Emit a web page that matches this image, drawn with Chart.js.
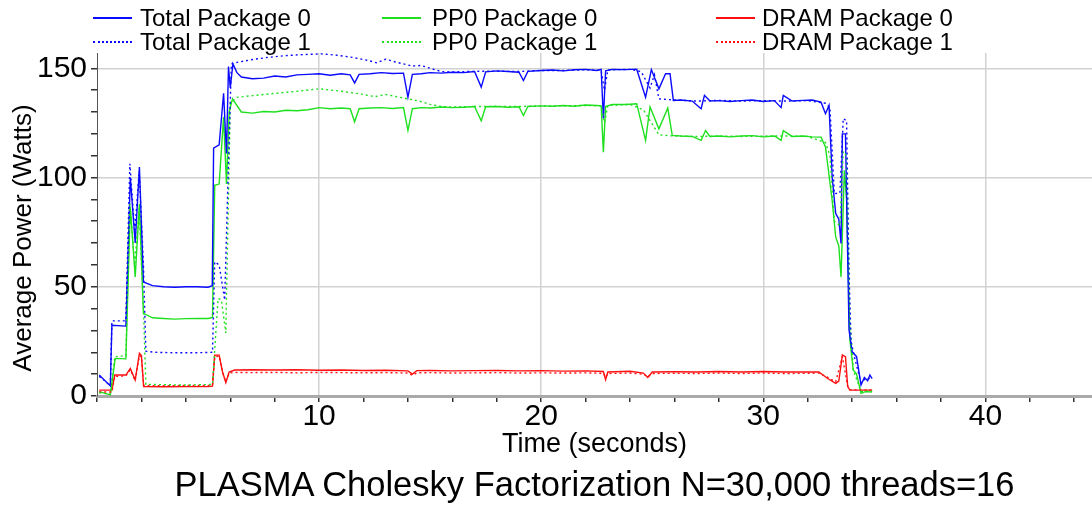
<!DOCTYPE html>
<html>
<head>
<meta charset="utf-8">
<script src="https://cdn.jsdelivr.net/npm/chart.js@4"></script>
<style>
  html, body { margin: 0; padding: 0; background: #fff; overflow: hidden; }
  #wrap { position: relative; width: 1092px; height: 506px; font-family: 'Liberation Sans', Arial, sans-serif; color: #000; }
  #c { position: absolute; left: 0; top: 0; }
  .leg { position: absolute; font-size: 24px; line-height: 24px; white-space: nowrap; }
  .sw { position: absolute; height: 0; }
  #ytitle { position: absolute; width: 320px; height: 30px; line-height: 30px; font-size: 26px; text-align: center; transform: rotate(-90deg); white-space: nowrap; }
  #mtitle { position: absolute; left: 97px; width: 995px; top: 464px; height: 40px; line-height: 40px; font-size: 34.5px; text-align: center; white-space: nowrap; }
</style>
</head>
<body>
<div id="wrap">
  <canvas id="c" width="1092" height="506"></canvas>
  <div id="legend"></div>
  <div id="ytitle" style="left:-138px; top:223px;">Average Power (Watts)</div>
  <div id="mtitle">PLASMA Cholesky Factorization N=30,000 threads=16</div>
</div>
<script>
// ---- data: [time (s), power (W)] ----
const totalPkg0 = [[0.1,9.6],[0.6,4.6],[0.67,32.4],[1.3,32],[1.5,100],[1.72,70],[1.91,104.8],[2.09,52.2],[2.5,50.5],[3.0,50],[3.5,49.8],[4.0,50],[4.5,50],[5.0,49.8],[5.19,50.5],[5.25,113.5],[5.5,115],[5.7,138.6],[5.83,111],[5.92,150.8],[6.0,141],[6.12,152],[6.3,148],[6.5,146],[7.0,145.2],[7.5,145.5],[8.0,146.5],[8.5,146],[9.0,147],[9.5,147.2],[10.0,147.5],[10.5,146.8],[11.0,147.5],[11.4,147],[11.6,143.3],[11.8,147.2],[12.3,147.5],[12.8,148],[13.3,147.6],[13.8,147.8],[14.0,136.8],[14.2,147.2],[14.6,147.5],[15.0,148],[15.5,147.8],[16.0,148.2],[16.5,148],[17.0,148.5],[17.3,141.4],[17.5,148.4],[18.0,148.8],[18.5,148.5],[19.0,148.2],[19.2,144.4],[19.4,148.6],[20.0,149],[20.5,149.2],[21.0,148.8],[21.5,149.3],[22.0,149.5],[22.5,149],[22.7,149.5],[22.8,127],[22.9,148.8],[23.2,149.5],[23.8,149.4],[24.3,149.6],[24.7,136.8],[24.96,149.4],[25.3,140.6],[25.6,147.5],[25.8,147.5],[25.95,135.3],[26.3,135.5],[26.8,135],[27.2,131.5],[27.35,137.6],[27.6,135],[28.0,135.2],[28.5,134.8],[29.0,135.2],[29.5,135.5],[30.0,134.8],[30.5,135.2],[30.8,132],[30.9,137.6],[31.3,135],[31.8,135.3],[32.2,135.5],[32.6,134.5],[32.8,129.2],[32.96,133],[33.1,100.2],[33.26,83.5],[33.4,81],[33.5,69.8],[33.56,120],[33.7,120],[33.86,30.2],[34.0,20.3],[34.2,18],[34.4,5],[34.55,8.5],[34.7,7],[34.8,9.6],[34.9,8]];
const totalPkg1 = [[0.1,9.0],[0.6,4.8],[0.67,34.4],[1.3,34.4],[1.48,106.3],[1.7,75],[1.9,103],[2.09,60],[2.2,20.5],[2.6,20],[3.5,19.8],[4.5,19.8],[5.2,20],[5.3,61.4],[5.5,60],[5.75,43.9],[5.9,100],[6.05,152],[6.35,152.8],[7.0,154],[7.7,155],[8.5,155.8],[9.3,156.3],[10.1,156.6],[10.8,156],[11.5,155],[12.2,153.6],[12.6,152.5],[13.0,154.2],[13.4,153],[13.8,152],[14.2,151],[14.6,151.3],[15.0,150],[15.5,148.5],[16.0,148.3],[17.0,148.6],[18.0,148.7],[19.0,148.5],[20.0,149],[21.0,149],[22.0,149.3],[22.7,149],[22.85,140],[23.0,149.3],[24.0,149.5],[24.5,148.5],[24.9,141],[25.1,147],[25.3,136],[26.0,135.5],[27.0,135],[28.0,135.3],[29.0,135],[30.0,135.2],[31.0,135],[32.0,135.2],[32.8,134],[33.0,132],[33.2,92.6],[33.45,93],[33.6,127],[33.75,126],[33.85,60],[33.95,25],[34.1,18],[34.4,6],[34.6,8],[34.9,8]];
const pp0Pkg0 = [[0.1,2],[0.6,0.5],[0.82,17.2],[1.3,17],[1.5,86.5],[1.72,54.5],[1.91,88],[2.09,37.8],[2.5,35.8],[3.0,35.5],[3.5,35.2],[4.0,35.4],[4.5,35.5],[5.0,35.5],[5.2,36],[5.3,96.4],[5.5,97],[5.7,127.7],[5.83,97],[5.95,130],[6.1,136],[6.5,130],[7.0,129.5],[7.5,130.2],[8.0,130],[8.5,130.8],[9.0,130.6],[9.5,131],[10.0,132],[10.5,131.5],[11.0,131.8],[11.4,131.5],[11.6,125.5],[11.8,131.5],[12.3,131.8],[12.8,132],[13.3,131.6],[13.8,132],[14.0,121.6],[14.2,131.5],[14.6,132],[15.0,131.8],[15.5,132.3],[16.0,132],[16.5,132.2],[17.0,132.5],[17.3,126],[17.5,132.4],[18.0,132.5],[18.5,132.2],[19.0,132.4],[19.2,128.4],[19.4,132.5],[20.0,132.8],[20.5,132.6],[21.0,133],[21.5,132.6],[22.0,133.2],[22.5,133],[22.7,132.8],[22.8,111.6],[22.9,132.5],[23.2,133.5],[23.8,133.4],[24.3,133.8],[24.7,117],[24.9,132.3],[25.3,122.3],[25.7,131.8],[25.9,119.3],[26.3,119],[26.8,118.8],[27.2,117],[27.4,121.5],[27.6,118.8],[28.0,119],[28.5,118.6],[29.0,119],[29.5,119.2],[30.0,118.6],[30.5,119],[30.8,117],[30.9,121.5],[31.3,118.8],[31.8,119],[32.2,118.6],[32.6,118.5],[32.8,114],[33.1,89.6],[33.26,72.8],[33.4,68.7],[33.5,54.5],[33.65,103.3],[33.75,90],[33.9,25.6],[34.05,11.9],[34.2,10],[34.4,1.2],[34.6,2],[34.9,1.8]];
const pp0Pkg1 = [[0.1,1.5],[0.6,0.8],[0.8,18],[1.3,18.5],[1.48,88],[1.7,60],[1.9,86],[2.09,40],[2.2,5.3],[3.0,5.2],[4.0,5],[5.2,5.3],[5.45,44.6],[5.6,44],[5.8,28.8],[6.0,133.8],[6.3,136.7],[7.0,137.5],[8.0,138.5],[9.0,139.5],[10.0,140.6],[11.0,139.5],[12.0,138],[12.5,137],[13.0,138],[13.5,137],[14.0,136],[14.5,135],[15.0,133.5],[15.5,132.5],[16.0,132.3],[17.0,132.5],[18.0,132.6],[19.0,132.5],[20.0,132.8],[21.0,132.8],[22.0,133],[22.7,132.8],[22.85,125],[23.0,133],[24.0,133.5],[24.6,131],[25.3,119.5],[26.0,119],[27.0,118.8],[28.0,119],[29.0,118.8],[30.0,119],[31.0,119],[32.0,118.8],[32.8,116],[33.0,110],[33.2,80],[33.45,78],[33.6,112],[33.75,110],[33.9,35],[34.05,12],[34.4,2],[34.9,2.2]];
const dramPkg0 = [[0.1,2.7],[0.67,2.7],[0.8,9.6],[1.3,9.6],[1.5,12.6],[1.72,7.3],[1.91,19.5],[2.0,18.5],[2.1,4.3],[3.0,4.2],[4.0,4.3],[5.0,4.3],[5.2,4.5],[5.3,18.7],[5.5,18.7],[5.65,11.1],[5.8,6.1],[5.95,11],[6.2,11.9],[7.0,12],[8.0,11.9],[9.0,12],[10.0,11.8],[11.0,11.9],[12.0,11.7],[13.0,11.8],[14.0,11.5],[14.2,10],[14.4,11.6],[15.0,11.7],[16.0,11.5],[17.0,11.6],[18.0,11.7],[19.0,11.5],[20.0,11.6],[21.0,11.4],[22.0,11.5],[22.8,11.2],[22.9,7.5],[23.0,11],[24.0,11.3],[24.6,10.5],[24.8,8.5],[25.0,11],[26.0,11.1],[27.0,11],[28.0,11.2],[29.0,11],[30.0,11.2],[31.0,11],[32.0,11],[32.5,11],[32.9,8],[33.26,5.8],[33.4,6.8],[33.56,18.7],[33.7,18],[33.8,4.3],[33.9,2.7],[34.9,2.7]];
const dramPkg1 = [[0.1,1.8],[0.67,1.8],[0.8,9],[1.3,9.2],[1.5,12],[1.72,7],[1.91,18.5],[2.0,18],[2.1,4.8],[3.0,4.7],[4.0,4.8],[5.0,4.8],[5.2,5],[5.3,18],[5.5,18.2],[5.65,11],[5.8,6.5],[5.95,10.5],[6.2,10.8],[7.0,10.7],[8.0,10.8],[9.0,10.6],[10.0,10.8],[11.0,10.7],[12.0,10.6],[13.0,10.7],[14.0,10.5],[14.2,9.5],[14.4,10.6],[15.0,10.7],[16.0,10.5],[17.0,10.6],[18.0,10.7],[19.0,10.5],[20.0,10.6],[21.0,10.5],[22.0,10.6],[22.8,10.4],[22.9,8.5],[23.0,10.3],[24.0,10.5],[24.6,10],[24.8,8.8],[25.0,10.3],[26.0,10.4],[27.0,10.3],[28.0,10.5],[29.0,10.3],[30.0,10.5],[31.0,10.3],[32.0,10.4],[32.5,10.5],[32.9,8.5],[33.26,6.5],[33.56,18],[33.8,4.5],[33.9,2.8],[34.9,2.8]];

const seriesNames = ['Total Package 0','Total Package 1','PP0 Package 0','PP0 Package 1','DRAM Package 0','DRAM Package 1'];
const xTickLabels = [10, 20, 30, 40];
const yTickLabels = [0, 50, 100, 150];

const BLUE = '#0a0aff', GREEN = '#1ee01e', RED = '#ff1010';
const DOT = [2, 3];

const toPts = arr => arr.map(([x, y]) => ({x, y}));
const mk = (label, data, color, dashed) => ({
  label, data: toPts(data), borderColor: color, backgroundColor: color,
  borderWidth: 1.4, borderDash: dashed ? DOT : [], pointRadius: 0, tension: 0, fill: false
});
const near = (list, v) => list.some(k => Math.abs(k - v) < 1e-6);

// ---- HTML legend ----
const legendSpec = [
  {name: seriesNames[0], color: BLUE, dashed: false, lx: 93, tx: 140, cy: 18},
  {name: seriesNames[1], color: BLUE, dashed: true,  lx: 93, tx: 140, cy: 42},
  {name: seriesNames[2], color: GREEN, dashed: false, lx: 382, tx: 432, cy: 18},
  {name: seriesNames[3], color: GREEN, dashed: true,  lx: 382, tx: 432, cy: 42},
  {name: seriesNames[4], color: RED, dashed: false, lx: 716, tx: 762, cy: 18},
  {name: seriesNames[5], color: RED, dashed: true,  lx: 716, tx: 762, cy: 42}
];
const legend = document.getElementById('legend');
legendSpec.forEach(s => {
  const sw = document.createElement('div');
  sw.className = 'sw';
  sw.style.left = s.lx + 'px';
  sw.style.width = '39px';
  sw.style.top = (s.cy - 1) + 'px';
  sw.style.borderTop = '2px ' + (s.dashed ? 'dotted ' : 'solid ') + s.color;
  legend.appendChild(sw);
  const t = document.createElement('div');
  t.className = 'leg';
  t.style.left = s.tx + 'px';
  t.style.top = (s.cy - 12) + 'px';
  t.textContent = s.name;
  legend.appendChild(t);
});

Chart.defaults.font.family = "'Liberation Sans', Arial, sans-serif";
Chart.defaults.color = '#000';

new Chart(document.getElementById('c'), {
  type: 'line',
  data: {
    datasets: [
      mk(seriesNames[1], totalPkg1, BLUE, true),
      mk(seriesNames[3], pp0Pkg1, GREEN, true),
      mk(seriesNames[5], dramPkg1, RED, true),
      mk(seriesNames[0], totalPkg0, BLUE, false),
      mk(seriesNames[2], pp0Pkg0, GREEN, false),
      mk(seriesNames[4], dramPkg0, RED, false)
    ]
  },
  options: {
    responsive: false,
    animation: false,
    layout: { padding: { top: 53, left: 0, right: 0, bottom: 45 } },
    plugins: { legend: { display: false }, title: { display: false }, tooltip: { enabled: false } },
    scales: {
      x: {
        type: 'linear', min: 0, max: 44.8,
        afterFit: s => { s.height = 65; },
        afterBuildTicks: s => {
          s.ticks = s.ticks.filter(t => Math.abs(t.value / 2 - Math.round(t.value / 2)) < 1e-6)
                           .map(t => ({value: Math.round(t.value)}));
        },
        ticks: {
          stepSize: 2, includeBounds: false, autoSkip: false, maxRotation: 0, padding: -3,
          font: { size: 30 }, color: '#000',
          callback: v => near(xTickLabels, v) ? String(Math.round(v)) : ''
        },
        grid: {
          color: c => (c.tick && near(xTickLabels, c.tick.value)) ? '#d2d2d2' : 'rgba(0,0,0,0)',
          lineWidth: 1.5, tickColor: '#333', tickLength: 6, drawTicks: true
        },
        border: { color: '#aaaaaa', width: 3 },
        title: { display: true, text: 'Time (seconds)', font: { size: 27 }, color: '#000', padding: { top: 0, bottom: 0 } }
      },
      y: {
        type: 'linear', min: 0, max: 157,
        afterFit: s => { s.width = 97; },
        afterBuildTicks: s => {
          s.ticks = s.ticks.filter(t => Math.abs(t.value / 10 - Math.round(t.value / 10)) < 1e-6)
                           .map(t => ({value: Math.round(t.value)}));
        },
        ticks: {
          stepSize: 10, includeBounds: false, autoSkip: false, padding: 4,
          font: { size: 30 }, color: '#000',
          callback: v => near(yTickLabels, v) ? String(Math.round(v)) : ''
        },
        grid: {
          color: c => (c.tick && near(yTickLabels, c.tick.value) && c.tick.value !== 0) ? '#d2d2d2' : 'rgba(0,0,0,0)',
          lineWidth: 1.5, tickColor: '#333', tickLength: 6
        },
        border: { color: '#555555', width: 1 }
      }
    }
  }
});
</script>
</body>
</html>
